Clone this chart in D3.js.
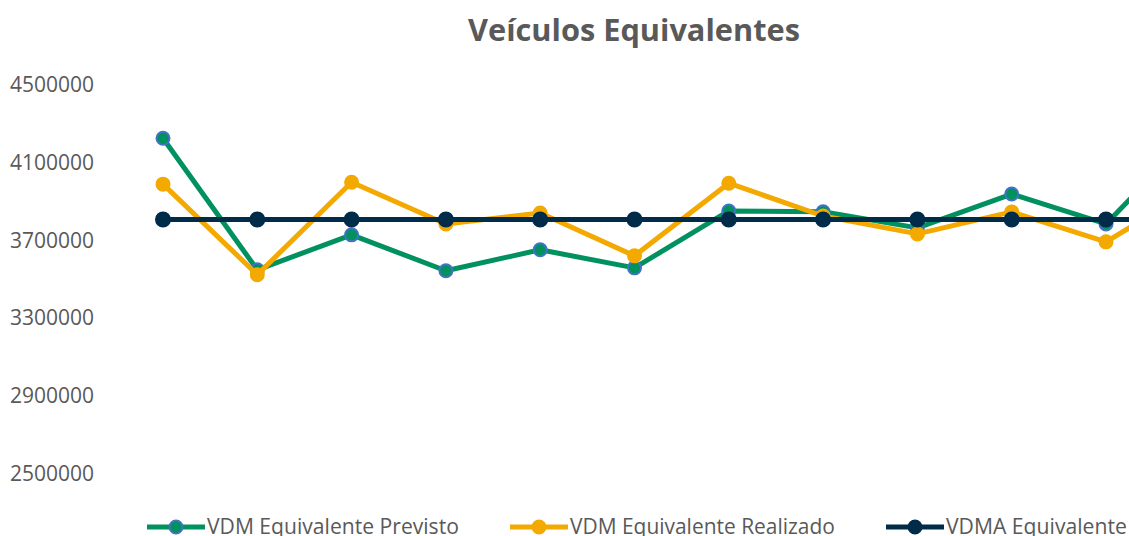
<!DOCTYPE html>
<html><head><meta charset="utf-8">
<script src="https://cdn.jsdelivr.net/npm/d3@7"></script>
<style>
html,body{margin:0;padding:0;overflow:hidden;background:#fff;}
svg{display:block;}
text{font-family:"Open Sans",sans-serif;fill:#595959;}
</style></head><body>
<script>
const months = ["Jan","Fev","Mar","Abr","Mai","Jun","Jul","Ago","Set","Out","Nov","Dez"];
const previsto  = [4223000,3546000,3726000,3541000,3649000,3556000,3849000,3845000,3762000,3936000,3782000,4285000];
const realizado = [3987000,3521000,3997000,3782000,3838000,3618000,3992000,3823000,3731000,3844000,3690000,3982000];
const vdma      = [3805000,3805000,3805000,3805000,3805000,3805000,3805000,3805000,3805000,3805000,3805000,3805000];
const yTicks = [2500000,2900000,3300000,3700000,4100000,4500000];
const seriesNames = ["VDM Equivalente Previsto","VDM Equivalente Realizado","VDMA Equivalente"];
const title = "Veículos Equivalentes";

const W = 1270, H = 536;
const svg = d3.select("body").append("svg").attr("width", W).attr("height", H);

const x = d3.scalePoint().domain(months).range([163, 1200.3]);
const y = d3.scaleLinear().domain([2500000, 4500000]).range([473, 84.5]);

function fit(sel, target){
  const w = sel.node().getComputedTextLength();
  const fs = parseFloat(sel.attr("font-size"));
  sel.attr("font-size", fs * target / w);
}

// title
const t = svg.append("text").attr("x", 634).attr("y", 41).attr("text-anchor","middle")
  .attr("font-weight","bold").attr("font-size", 30).text(title);
fit(t, 332);

// y axis labels
const ax = svg.append("g").attr("transform","translate(94,0)")
  .call(d3.axisLeft(y).tickValues(yTicks).tickSize(0).tickPadding(0).tickFormat(d3.format("d")));
ax.select(".domain").remove();
ax.selectAll("text").attr("font-size", 21).attr("font-family","Open Sans").attr("fill","#595959")
  .attr("dy","0.35em");

const series = [
  {name: seriesNames[0], values: previsto, color: "#00915F", mstroke: "#4472C4", r: 6.5},
  {name: seriesNames[1], values: realizado, color: "#F4A900", mstroke: "#F4A900", r: 6.5},
  {name: seriesNames[2], values: vdma, color: "#002B49", mstroke: "#002B49", r: 7}
];

const line = d3.line().x((d,i)=>x(months[i])).y(d=>y(d));

series.forEach(s=>{
  const g = svg.append("g");
  g.append("path").attr("d", line(s.values)).attr("fill","none")
    .attr("stroke", s.color).attr("stroke-width", 5).attr("stroke-linejoin","round");
  g.selectAll("circle").data(s.values).join("circle")
    .attr("cx",(d,i)=>x(months[i])).attr("cy", d=>y(d)).attr("r", s.r)
    .attr("fill", s.color).attr("stroke", s.mstroke).attr("stroke-width", 2);
});

// legend
const legX = [147, 510, 886];
const legW = [252, 265, 181];
series.forEach((s,i)=>{
  const g = svg.append("g").attr("transform", `translate(${legX[i]},527)`);
  g.append("line").attr("x1",0).attr("x2",58).attr("y1",0).attr("y2",0)
    .attr("stroke", s.color).attr("stroke-width",5);
  g.append("circle").attr("cx",29).attr("cy",0).attr("r",6.5)
    .attr("fill", s.color).attr("stroke", s.mstroke).attr("stroke-width",2);
  const tt = g.append("text").attr("x",60).attr("y",0).attr("dy","0.35em")
    .attr("font-size",20).text(s.name);
  fit(tt, legW[i]);
});
</script>
</body></html>
